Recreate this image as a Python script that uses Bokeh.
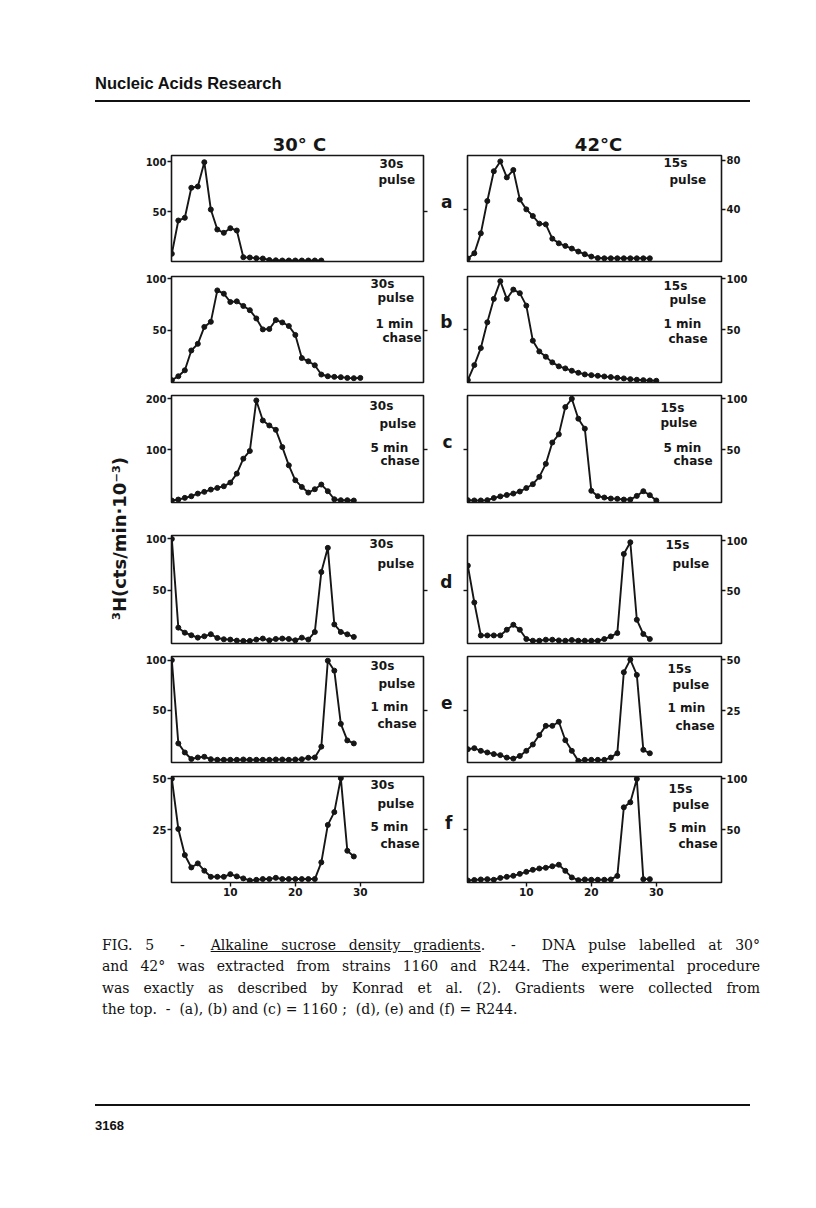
import math
from bokeh.plotting import figure
from bokeh.models import Range1d, LinearAxis, FixedTicker, Label, Div, CustomJSTickFormatter
from bokeh.layouts import column, row
from bokeh.embed import file_html
from bokeh.resources import INLINE

# ---------------- data: 3H (cts/min x 10^-3) per gradient fraction ----------------
a30 = [7.7, 41, 43.7, 73.7, 75, 99.3, 52, 32, 28.7, 33.3, 31, 4.3, 4, 3.3, 3, 1.5, 1.2, 1, 1, 1, 1, 1, 1, 1]
a42 = [0, 4.3, 20.5, 46.8, 71, 79, 66, 72, 48, 40, 34.6, 28.4, 27.8, 16.2, 12.4, 10.3, 8.1, 5.7, 3.5, 1.6,
       0.4, 0.2, 0.2, 0.2, 0.2, 0.2, 0.2, 0.2, 0.2]
b30 = [1, 4.8, 10.6, 30, 36.5, 53, 58, 88.7, 85.5, 77.4, 78, 73.5, 69.4, 61.3, 50.6, 51, 59.7, 57.4, 53.9,
       45.2, 22.6, 19.4, 15.5, 6.5, 4.8, 4.2, 3.9, 3.2, 2.9, 3.2]
b42 = [1, 15.6, 32.3, 57.5, 80.4, 97.7, 80.4, 89.5, 86, 73.8, 39.5, 29, 23.8, 18.3, 14.4, 12.4, 10.1, 8.1,
       6.5, 5.8, 5.2, 4.5, 3.9, 3.2, 2.6, 1.9, 1.3, 0.9, 0.6, 0.3]
c30 = [0, 1.9, 5.2, 8.4, 13.6, 17, 21.5, 24.8, 28, 35.2, 52.9, 82.3, 97.4, 196.7, 157.4, 147.6, 139, 105,
       69.2, 39.8, 26.7, 15.6, 22.2, 31.4, 18.3, 2.5, 0.6, 0.6, 0]
c42 = [0.3, 0, 0, 0.3, 2.4, 4, 5.4, 6.8, 8.8, 12.2, 16, 23.2, 36, 57, 65, 91.8, 100, 80.4, 70.6, 9.5, 4.2,
       2.9, 1.9, 1.6, 0.9, 0.9, 4.5, 9.1, 5.2, 0]
d30 = [100, 13.9, 9, 6.5, 4.2, 5.5, 7.5, 3.9, 2.6, 2.3, 1.3, 1, 1, 2.3, 3.3, 1.6, 2.9, 3.3, 2.9, 1.6, 4.2,
       2.3, 9.7, 67.8, 91.3, 17, 9.7, 7.4, 4.9]
d42 = [75.3, 38.3, 5.3, 5.3, 5.3, 5.3, 11, 16, 11, 1.7, 0, 0, 1, 1, 0.3, 0, 0.7, 0, 0, 0, 0, 1.7, 4.3, 7.7,
       87, 98.7, 21, 6.7, 1.7]
e30 = [100, 17, 8, 1.5, 3, 3.7, 1.3, 0.7, 0.7, 0.7, 0.7, 1, 0.7, 0.7, 0.7, 0.7, 1, 1, 0.7, 1, 1.3, 2.7, 3,
       13.8, 99.4, 89.5, 36.5, 20, 17]
e42 = [6.2, 6.7, 5.4, 4.6, 3.8, 3.3, 2.1, 1.6, 2.9, 5.4, 8.5, 13.1, 17.6, 17.6, 19.6, 10.6, 5.4, 0.5, 1, 1,
       1, 1, 2.1, 4.2, 43.8, 50, 42.5, 5.9, 4.2]
f30 = [50, 25.3, 12.5, 6.4, 8.4, 4.8, 1.8, 1.8, 1.8, 3.1, 2, 1, 0, 0.3, 0.7, 0.7, 1.3, 0.7, 0.7, 0.7, 0.7,
       0.7, 0.7, 8.9, 27.3, 33.6, 50.3, 14.6, 11.8]
f42 = [0, 0.5, 1, 1.3, 0.7, 2.5, 3.6, 4.6, 6.5, 8.5, 10.5, 11.8, 12.5, 14, 15.5, 9.5, 3, 0.3, 1, 0.7, 0.7,
       0.7, 1, 4.5, 72, 77, 100, 1.3, 1.3]

# y ranges and tick values per panel
y30_ranges = [(0, 106), (-1.3, 102.3), (-3.9, 206.5), (-1.5, 103.3), (-2, 103.6), (-1, 51.1)]
y42_ranges = [(-2.4, 83.8), (-1.4, 102.3), (-2, 103.2), (-2.8, 105.5), (-0.3, 51.5), (-2, 102.4)]
y30_ticks = [[50, 100], [50, 100], [100, 200], [50, 100], [50, 100], [25, 50]]
y42_ticks = [[40, 80], [50, 100], [50, 100], [50, 100], [25, 50], [50, 100]]
x_ticks = [10, 20, 30]

panel_letters = ["a", "b", "c", "d", "e", "f"]
col_titles = ["30\u00b0 C", "42\u00b0C"]
y_label = "\u00b3H(cts/min\u00b710\u207b\u00b3)"
notes30 = [["30s", "pulse"], ["30s", "pulse", "1 min", "chase"], ["30s", "pulse", "5 min", "chase"],
           ["30s", "pulse"], ["30s", "pulse", "1 min", "chase"], ["30s", "pulse", "5 min", "chase"]]
notes42 = [["15s", "pulse"], ["15s", "pulse", "1 min", "chase"], ["15s", "pulse", "5 min", "chase"],
           ["15s", "pulse"], ["15s", "pulse", "1 min", "chase"], ["15s", "pulse", "5 min", "chase"]]

# ---------------- layout / style ----------------
SANS = "DejaVu Sans"
INK = "#161616"
PX_PER_FRACTION = 6.5
row_heights = [143, 121, 129, 131, 120, 136]
row_top = [30, 8, 6, 17, 7, 7]
row_bot = [7, 7, 16, 6, 7, 23]
# note positions (left offset px from frame left, centre offset px from frame top)
pos30 = [[(208, 8), (207, 24)],
         [(199, 7), (206, 21), (204, 47), (211, 61)],
         [(198, 10), (208, 28), (199, 52), (209, 65)],
         [(198, 8), (206, 28)],
         [(199, 9), (207, 27), (199, 50), (206, 67)],
         [(199, 8), (206, 27), (199, 50), (209, 67)]]
pos42 = [[(196, 7), (202, 24)],
         [(196, 9), (202, 23), (196, 47), (201, 62)],
         [(193, 12), (193, 27), (196, 52), (206, 65)],
         [(198, 9), (205, 28)],
         [(200, 12), (205, 28), (200, 51), (208, 69)],
         [(201, 12), (205, 28), (201, 51), (211, 67)]]


def style_axis(ax, size="10px"):
    ax.axis_line_color = None
    ax.major_tick_line_color = INK
    ax.major_tick_line_width = 1.4
    ax.major_tick_out = 4
    ax.major_tick_in = 0
    ax.minor_tick_line_color = None
    ax.major_label_text_font = SANS
    ax.major_label_text_font_style = "bold"
    ax.major_label_text_font_size = size
    ax.major_label_text_color = INK
    ax.major_label_standoff = 1


def text_axis(tick, txt, size, standoff):
    ax = LinearAxis(ticker=FixedTicker(ticks=[tick]),
                    formatter=CustomJSTickFormatter(code="return %r;" % txt))
    style_axis(ax, size)
    ax.major_tick_line_color = None
    ax.major_tick_out = 0
    ax.major_label_standoff = standoff
    return ax


def make_panel(side, i, vals, yr, ticks, notes, npos):
    if side == "L":
        width, mbl, mbr = 296, 31, 13
    else:
        width, mbl, mbr = 324, 31, 39
    height, top, bot = row_heights[i], row_top[i], row_bot[i]
    fw = width - mbl - mbr
    fh = height - top - bot
    x0 = 0.95
    x1 = x0 + fw / PX_PER_FRACTION
    y0, y1 = yr
    last = (i == 5)
    p = figure(width=width, height=height, x_range=Range1d(x0, x1), y_range=Range1d(y0, y1),
               output_backend="svg", toolbar_location=None, title=None,
               x_axis_location="below" if last else None, y_axis_location=None,
               min_border_left=mbl, min_border_right=mbr, min_border_top=top, min_border_bottom=bot)
    p.background_fill_color = "white"
    p.border_fill_color = "white"
    p.outline_line_color = INK
    p.outline_line_width = 1.6
    p.grid.visible = False

    fr = list(range(1, len(vals) + 1))
    p.line(fr, vals, line_color=INK, line_width=1.9, line_join="round")
    p.scatter(fr, vals, size=5, fill_color=INK, line_color=INK)

    def xd(px):
        return x0 + px / fw * (x1 - x0)

    def yd(px):
        return y1 - px / fh * (y1 - y0)

    lab_ax = LinearAxis(ticker=FixedTicker(ticks=ticks))
    style_axis(lab_ax)
    plain_ax = LinearAxis(ticker=FixedTicker(ticks=[ticks[0]]),
                          formatter=CustomJSTickFormatter(code="return '';"))
    style_axis(plain_ax)
    if side == "L":
        p.add_layout(lab_ax, "left")
        p.add_layout(plain_ax, "right")
    else:
        p.add_layout(plain_ax, "left")
        p.add_layout(lab_ax, "right")
        p.add_layout(text_axis(round(yd(46), 2), panel_letters[i], "17px", 11), "left")

    if i == 0:
        cx = 128 if side == "L" else 131
        p.add_layout(text_axis(round(xd(cx), 3), col_titles[0 if side == "L" else 1], "18px", 1), "above")

    if last:
        p.xaxis.ticker = FixedTicker(ticks=x_ticks)
        style_axis(p.xaxis[0], "10.5px")

    for txt, (dx, dy) in zip(notes, npos):
        p.add_layout(Label(x=xd(dx), y=yd(dy), text=txt, text_font=SANS, text_font_style="bold",
                           text_font_size="12px", text_align="left", text_baseline="middle",
                           text_color=INK))
    return p


series30 = [a30, b30, c30, d30, e30, f30]
series42 = [a42, b42, c42, d42, e42, f42]
rows = []
for i in range(6):
    pl = make_panel("L", i, series30[i], y30_ranges[i], y30_ticks[i], notes30[i], pos30[i])
    pr = make_panel("R", i, series42[i], y42_ranges[i], y42_ticks[i], notes42[i], pos42[i])
    rows.append(row(pl, pr))
grid = column(*rows)

# y-axis title column
GH = sum(row_heights)
YLW = 140
yl = figure(width=YLW, height=GH, x_range=Range1d(0, YLW), y_range=Range1d(0, GH),
            output_backend="svg", toolbar_location=None, title=None,
            x_axis_location=None, y_axis_location=None,
            min_border_left=0, min_border_right=0, min_border_top=0, min_border_bottom=0)
yl.outline_line_color = None
yl.grid.visible = False
yl.border_fill_color = "white"
yl.add_layout(Label(x=119, y=GH - 413, text=y_label, angle=math.pi / 2, text_font=SANS,
                    text_font_style="bold", text_font_size="18px", text_align="center",
                    text_baseline="middle", text_color=INK))

header = Div(width=800, height=115, text=(
    '<div style="position:relative;width:800px;height:115px;">'
    '<div style="position:absolute;left:90px;top:68px;font-family:\'Liberation Sans\';font-weight:bold;'
    'font-size:16.5px;line-height:20px;color:#111;white-space:nowrap;">Nucleic Acids Research</div>'
    '<div style="position:absolute;left:90px;top:95px;width:655px;height:2px;background:#111;"></div>'
    '</div>'))

line_style = ("font-family:'DejaVu Serif';font-size:14px;line-height:21.3px;color:#111;"
              "width:658px;")
just = "text-align:justify;text-align-last:justify;"
caption = Div(width=800, height=120, text=(
    '<div style="position:relative;width:800px;height:120px;">'
    '<div style="position:absolute;left:97px;top:25px;">'
    f'<div style="{line_style}{just}">FIG. 5 &nbsp;- &nbsp;<u>Alkaline sucrose density gradients</u>. &nbsp;- &nbsp;DNA pulse labelled at 30\u00b0</div>'
    f'<div style="{line_style}{just}">and 42\u00b0 was extracted from strains 1160 and R244. The experimental procedure</div>'
    f'<div style="{line_style}{just}">was exactly as described by Konrad et al. (2). Gradients were collected from</div>'
    f'<div style="{line_style}text-align:left;">the top. &nbsp;- &nbsp;(a), (b) and (c) = 1160 ; &nbsp;(d), (e) and (f) = R244.</div>'
    '</div></div>'))

footer = Div(width=800, height=100, text=(
    '<div style="position:relative;width:800px;height:100px;">'
    '<div style="position:absolute;left:90px;top:64px;width:655px;height:1.5px;background:#111;"></div>'
    '<div style="position:absolute;left:90px;top:78px;font-family:\'Liberation Sans\';font-weight:bold;'
    'font-size:13px;line-height:16px;color:#111;">3168</div>'
    '</div>'))

page = column(header, row(yl, grid), caption, footer)

with open("out.html", "w") as fh_:
    fh_.write(file_html(page, INLINE, title="Alkaline sucrose density gradients"))
